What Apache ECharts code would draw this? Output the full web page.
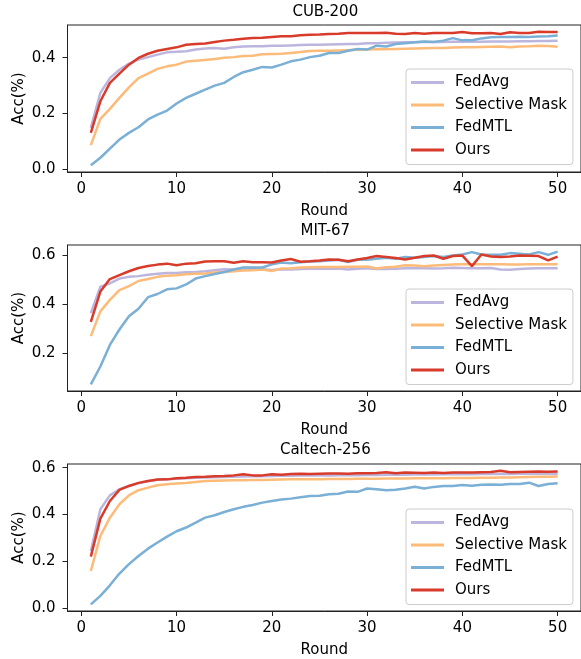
<!DOCTYPE html>
<html>
<head>
<meta charset="utf-8">
<script src="https://cdn.jsdelivr.net/npm/echarts@6/dist/echarts.min.js"></script>
<style>html,body{margin:0;padding:0;background:#fff;}#c{width:581px;height:659px;}</style>
</head>
<body>
<div id="c"></div>
<script>
const rounds = Array.from({length: 50}, (_, i) => i + 1);
const seriesNames = ['FedAvg', 'Selective Mask', 'FedMTL', 'Ours'];
const titles = ['CUB-200', 'MIT-67', 'Caltech-256'];
const xTicks = [0, 10, 20, 30, 40, 50];
const yTicks1 = [0.0, 0.2, 0.4];
const yTicks2 = [0.2, 0.4, 0.6];
const yTicks3 = [0.0, 0.2, 0.4, 0.6];

const cubFedAvg = [0.149,0.274,0.327,0.357,0.379,0.393,0.402,0.411,0.419,0.421,0.423,0.429,0.433,0.435,0.432,0.437,0.44,0.441,0.441,0.443,0.443,0.444,0.445,0.446,0.446,0.447,0.448,0.449,0.449,0.452,0.452,0.453,0.454,0.455,0.455,0.456,0.456,0.456,0.457,0.457,0.457,0.457,0.458,0.458,0.458,0.459,0.459,0.460,0.460,0.461];
const cubSel = [0.087,0.181,0.217,0.256,0.294,0.327,0.343,0.36,0.369,0.375,0.386,0.389,0.392,0.395,0.4,0.402,0.406,0.407,0.412,0.413,0.414,0.417,0.42,0.424,0.425,0.425,0.426,0.427,0.428,0.429,0.430,0.430,0.431,0.432,0.433,0.434,0.435,0.435,0.436,0.437,0.437,0.438,0.439,0.440,0.437,0.440,0.441,0.443,0.442,0.439];
const cubMTL = [0.015,0.042,0.075,0.107,0.131,0.151,0.179,0.196,0.211,0.236,0.256,0.271,0.286,0.3,0.31,0.331,0.348,0.357,0.367,0.365,0.375,0.387,0.393,0.402,0.407,0.417,0.417,0.425,0.431,0.429,0.443,0.44,0.449,0.452,0.455,0.458,0.456,0.461,0.47,0.462,0.462,0.469,0.473,0.474,0.474,0.475,0.474,0.476,0.477,0.479];
const cubOurs = [0.131,0.244,0.31,0.343,0.375,0.399,0.414,0.425,0.431,0.437,0.446,0.449,0.451,0.456,0.461,0.464,0.468,0.470,0.471,0.474,0.477,0.477,0.48,0.482,0.483,0.485,0.486,0.488,0.488,0.488,0.488,0.489,0.486,0.485,0.488,0.486,0.488,0.488,0.488,0.492,0.487,0.487,0.488,0.485,0.491,0.488,0.488,0.493,0.492,0.492];

const mitFedAvg = [0.362,0.47,0.483,0.503,0.51,0.513,0.519,0.523,0.526,0.526,0.529,0.530,0.533,0.537,0.541,0.540,0.540,0.541,0.541,0.538,0.541,0.540,0.542,0.543,0.543,0.543,0.544,0.540,0.543,0.545,0.542,0.542,0.543,0.545,0.545,0.545,0.544,0.545,0.547,0.546,0.545,0.545,0.546,0.540,0.539,0.542,0.544,0.545,0.545,0.545];
const mitSel = [0.268,0.369,0.416,0.456,0.472,0.493,0.501,0.51,0.515,0.517,0.521,0.523,0.524,0.528,0.530,0.533,0.536,0.537,0.54,0.534,0.544,0.545,0.548,0.549,0.550,0.550,0.550,0.551,0.551,0.552,0.544,0.549,0.551,0.557,0.556,0.553,0.556,0.558,0.560,0.561,0.561,0.562,0.562,0.562,0.560,0.560,0.562,0.562,0.561,0.562];
const mitMTL = [0.071,0.144,0.232,0.295,0.349,0.38,0.427,0.44,0.459,0.463,0.479,0.503,0.513,0.522,0.53,0.54,0.548,0.548,0.548,0.561,0.569,0.566,0.57,0.573,0.574,0.577,0.58,0.571,0.58,0.58,0.584,0.588,0.584,0.591,0.588,0.591,0.595,0.591,0.597,0.601,0.611,0.601,0.6,0.6,0.607,0.604,0.601,0.611,0.6,0.613];
const mitOurs = [0.326,0.45,0.501,0.517,0.533,0.546,0.554,0.56,0.564,0.557,0.564,0.566,0.573,0.574,0.574,0.568,0.574,0.57,0.57,0.569,0.577,0.583,0.572,0.574,0.577,0.581,0.580,0.574,0.581,0.587,0.595,0.591,0.587,0.581,0.588,0.595,0.597,0.584,0.595,0.597,0.554,0.601,0.593,0.591,0.593,0.597,0.596,0.595,0.577,0.593];

const calFedAvg = [0.245,0.423,0.482,0.508,0.522,0.533,0.542,0.548,0.550,0.553,0.555,0.557,0.558,0.559,0.560,0.561,0.562,0.563,0.563,0.564,0.565,0.565,0.566,0.566,0.567,0.567,0.568,0.568,0.568,0.569,0.569,0.570,0.570,0.570,0.571,0.571,0.571,0.572,0.572,0.572,0.572,0.573,0.573,0.573,0.573,0.574,0.574,0.574,0.574,0.574];
const calSel = [0.16,0.309,0.387,0.444,0.482,0.504,0.515,0.525,0.529,0.532,0.535,0.539,0.543,0.544,0.545,0.546,0.546,0.547,0.547,0.548,0.549,0.550,0.550,0.551,0.551,0.552,0.552,0.552,0.553,0.553,0.553,0.554,0.554,0.554,0.555,0.555,0.555,0.555,0.556,0.556,0.556,0.557,0.557,0.558,0.558,0.559,0.560,0.561,0.561,0.562];
const calMTL = [0.018,0.054,0.099,0.149,0.189,0.224,0.255,0.281,0.306,0.329,0.345,0.366,0.387,0.397,0.411,0.423,0.433,0.441,0.451,0.458,0.464,0.468,0.474,0.479,0.480,0.487,0.489,0.498,0.497,0.511,0.508,0.504,0.506,0.511,0.519,0.511,0.518,0.522,0.522,0.526,0.523,0.527,0.528,0.527,0.53,0.530,0.536,0.522,0.530,0.533];
const calOurs = [0.221,0.383,0.458,0.505,0.522,0.535,0.543,0.549,0.55,0.555,0.557,0.56,0.561,0.563,0.564,0.567,0.572,0.567,0.567,0.572,0.570,0.573,0.574,0.573,0.574,0.575,0.575,0.574,0.576,0.576,0.577,0.580,0.576,0.579,0.578,0.577,0.579,0.577,0.579,0.579,0.579,0.580,0.581,0.587,0.580,0.581,0.582,0.583,0.582,0.583];

const panels = [
  {title: titles[0], data: [cubFedAvg, cubSel, cubMTL, cubOurs], yTicks: yTicks1},
  {title: titles[1], data: [mitFedAvg, mitSel, mitMTL, mitOurs], yTicks: yTicks2},
  {title: titles[2], data: [calFedAvg, calSel, calMTL, calOurs], yTicks: yTicks3}
];

const colors = ['#bcb6de', '#fdbb79', '#7aafd6', '#d93b2b'];
const FONT = 'DejaVu Sans';
const layout = [
  {top: 25, height: 147, titleTop: 5, legendTop: 69},
  {top: 245, height: 146, titleTop: 224, legendTop: 289},
  {top: 464, height: 148, titleTop: 443, legendTop: 509}
];
const gridLeft = 67.5, gridWidth = 515.6;
const xMin = 1 - 0.05 * 49, xMax = 50 + 0.05 * 49;

const option = {
  animation: false,
  backgroundColor: '#fff',
  title: [], grid: [], xAxis: [], yAxis: [], legend: [], series: []
};

panels.forEach((p, k) => {
  const L = layout[k];
  const all = [].concat(...p.data);
  const lo = Math.min(...all), hi = Math.max(...all);
  const yMin = lo - 0.05 * (hi - lo), yMax = hi + 0.05 * (hi - lo);
  option.title.push({
    text: p.title, left: gridLeft + gridWidth / 2, top: L.titleTop, textAlign: 'center', padding: 0,
    textStyle: {fontFamily: FONT, fontSize: 15, fontWeight: 'normal', color: '#000'}
  });
  option.grid.push({left: gridLeft, top: L.top, width: gridWidth, height: L.height,
    show: true, borderColor: '#222', borderWidth: 1, backgroundColor: '#fff'});
  option.xAxis.push({
    type: 'value', gridIndex: k, min: xMin, max: xMax, position: 'bottom',
    name: 'Round', nameLocation: 'middle', nameGap: 32, nameMoveOverlap: false,
    nameTextStyle: {fontFamily: FONT, fontSize: 15, color: '#000'},
    axisLine: {show: true, onZero: false, lineStyle: {color: '#222', width: 1}}, splitLine: {show: false},
    axisTick: {show: true, inside: false, length: 5, customValues: xTicks, lineStyle: {color: '#222'}},
    axisLabel: {customValues: xTicks, margin: 10, fontFamily: FONT, fontSize: 15, color: '#000'}
  });
  option.yAxis.push({
    type: 'value', gridIndex: k, min: yMin, max: yMax, position: 'left',
    name: 'Acc(%)', nameLocation: 'middle', nameGap: 41, nameRotate: 90, nameMoveOverlap: false,
    nameTextStyle: {fontFamily: FONT, fontSize: 15, color: '#000'},
    axisLine: {show: true, onZero: false, lineStyle: {color: '#222', width: 1}}, splitLine: {show: false},
    axisTick: {show: true, inside: false, length: 5, customValues: p.yTicks, lineStyle: {color: '#222'}},
    axisLabel: {customValues: p.yTicks, margin: 12, fontFamily: FONT, fontSize: 15, color: '#000',
      formatter: v => v.toFixed(1)}
  });
  const names = seriesNames.map(n => n + '\u200b'.repeat(k));
  option.legend.push({
    data: names, orient: 'vertical', left: 406, top: L.legendTop,
    padding: [6, 6, 7, 5], itemGap: 7.5, itemWidth: 33, itemHeight: 3, icon: 'rect',
    borderColor: '#ccc', borderWidth: 1, borderRadius: 3, backgroundColor: 'rgba(255,255,255,0.85)',
    textStyle: {fontFamily: FONT, fontSize: 15, color: '#000', padding: [0, 0, 0, 6]},
    selectedMode: false
  });
  p.data.forEach((vals, j) => {
    option.series.push({
      type: 'line', name: names[j], xAxisIndex: k, yAxisIndex: k,
      data: rounds.map((r, i) => [r, vals[i]]),
      showSymbol: false, symbol: 'none', color: colors[j],
      lineStyle: {width: 2.5, color: colors[j]}
    });
  });
});

const chart = echarts.init(document.getElementById('c'), null, {renderer: 'canvas'});
chart.setOption(option);
</script>
</body>
</html>
